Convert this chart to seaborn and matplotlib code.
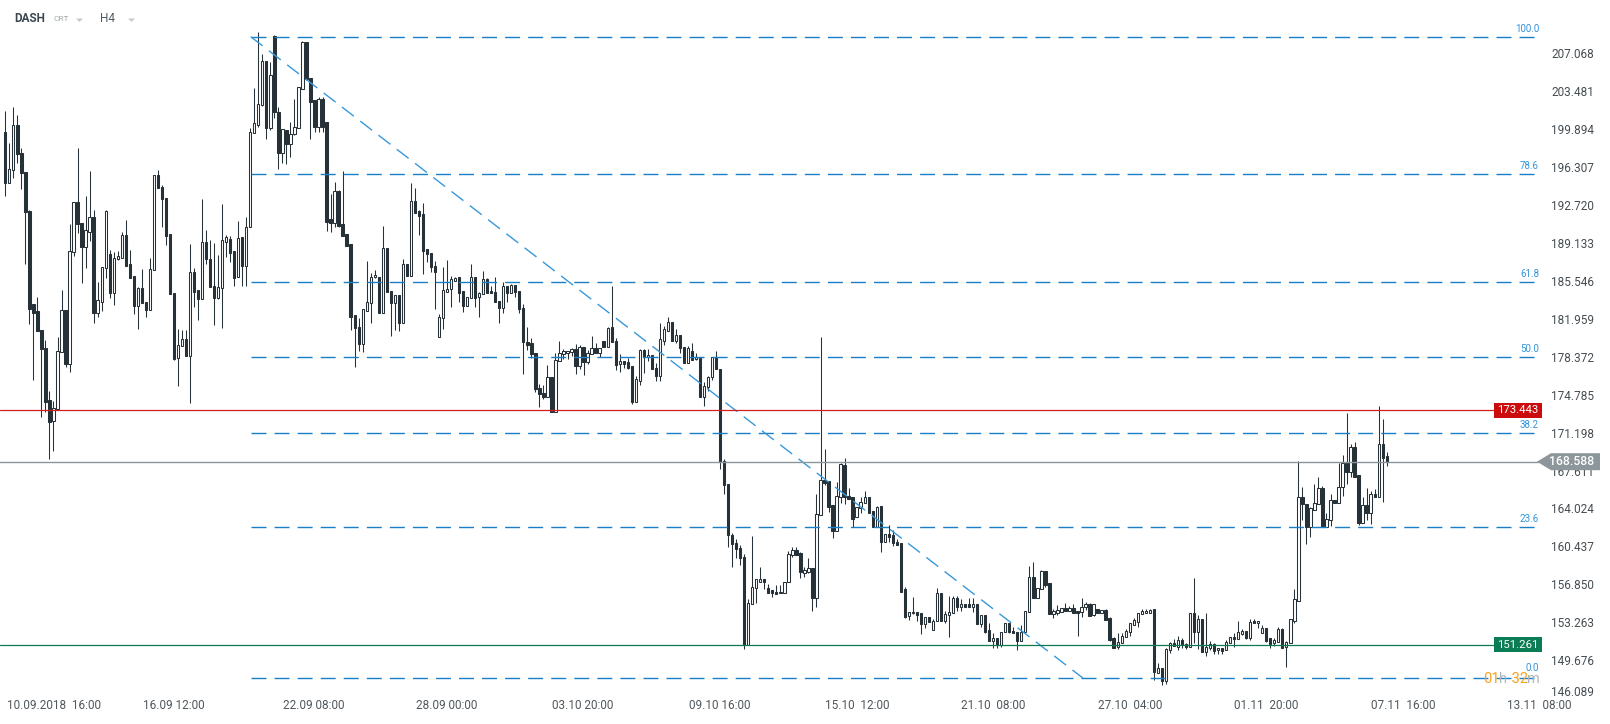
import matplotlib.pyplot as plt
from matplotlib.patches import Polygon, Rectangle
from matplotlib.offsetbox import TextArea, HPacker, AnnotationBbox
import numpy as np
import seaborn as sns

# DASH H4 candles (oldest first)
opens = [
    199.81, 194.92, 196.19, 200.41, 197.76, 195.97, 192.28, 183.48, 182.85, 181.05,
    179.31, 174.43, 172.44, 173.57, 178.94, 182.94, 177.80, 188.40, 193.13, 191.14,
    188.93, 190.35, 191.71, 182.69, 183.73, 186.88, 188.21, 184.58, 187.73, 187.89,
    190.04, 187.29, 186.13, 183.35, 184.99, 183.67, 182.91, 186.72, 195.68, 194.55,
    193.51, 190.10, 184.52, 178.37, 179.53, 180.17, 178.59, 186.50, 184.80, 183.95,
    189.34, 187.80, 185.24, 184.11, 185.05, 189.41, 189.63, 188.52, 186.03, 189.82,
    187.13, 190.76, 199.65, 200.44, 202.30, 206.50, 200.19, 208.90, 201.64, 197.76,
    199.97, 198.61, 199.56, 200.13, 203.88, 208.30, 204.86, 202.81, 200.28, 202.90,
    200.70, 191.55, 191.20, 194.17, 191.08, 190.13, 189.15, 182.47, 181.30, 179.69,
    182.88, 183.57, 186.03, 186.09, 182.69, 188.77, 184.74, 183.57, 184.36, 181.68,
    187.26, 186.19, 193.22, 192.31, 192.02, 188.71, 188.30, 187.10, 180.35, 182.15,
    184.68, 184.90, 185.72, 186.03, 184.74, 183.32, 184.05, 186.03, 184.17, 184.43,
    185.85, 184.74, 184.65, 183.80, 183.10, 185.21, 184.52, 185.31, 184.74, 183.10,
    179.95, 179.79, 178.85, 175.53, 175.06, 174.75, 176.64, 173.26, 178.12, 178.78,
    178.85, 179.00, 179.29, 177.68, 179.41, 178.06, 178.75, 179.32, 178.91, 180.01,
    179.48, 181.37, 180.04, 177.84, 178.12, 178.06, 177.65, 174.27, 176.26, 179.16,
    178.47, 178.69, 177.43, 176.70, 180.04, 180.99, 181.78, 180.04, 180.55, 179.41,
    177.96, 179.07, 178.28, 178.37, 174.68, 175.63, 176.58, 178.47, 177.36, 168.69,
    166.48, 161.66, 160.87, 160.40, 159.55, 151.25, 155.10, 156.61, 157.24, 157.46,
    156.61, 156.46, 156.30, 156.14, 156.20, 157.18, 159.73, 160.24, 159.92, 158.09,
    158.19, 158.50, 155.73, 163.52, 166.83, 166.77, 164.50, 162.07, 165.22, 168.28,
    165.35, 165.22, 163.33, 164.18, 164.72, 165.22, 163.93, 162.45, 164.40, 161.03,
    161.72, 161.63, 161.03, 160.87, 156.52, 153.99, 154.25, 154.40, 154.25, 153.21,
    153.87, 152.67, 153.52, 156.14, 153.55, 154.09, 154.25, 155.67, 154.88, 155.13,
    155.13, 154.81, 155.13, 153.21, 154.09, 152.67, 151.66, 151.91, 151.25, 152.45,
    153.30, 152.58, 152.45, 151.66, 152.51, 154.40, 157.65, 155.73, 156.52, 158.28,
    157.08, 154.15, 154.31, 154.40, 154.72, 154.50, 154.78, 154.47, 154.34, 154.81,
    155.13, 154.09, 154.62, 154.24, 154.56, 153.77, 151.88, 151.09, 151.41, 152.04,
    152.51, 153.14, 153.46, 154.15, 154.24, 154.31, 154.62, 148.63, 149.04, 147.85,
    150.78, 151.47, 151.09, 151.72, 151.34, 151.09, 154.24, 152.51, 153.68, 150.62,
    150.93, 151.31, 150.78, 150.93, 150.78, 151.41, 152.04, 151.79, 152.29, 152.60,
    151.94, 153.52, 153.30, 152.35, 152.83, 151.88, 151.41, 151.56, 152.73, 151.09,
    151.47, 153.55, 155.44, 165.22, 164.56, 162.44, 164.02, 164.59, 166.07, 162.44,
    163.07, 164.97, 164.72, 166.17, 168.44, 167.65, 169.95, 167.33, 162.82, 164.49,
    163.77, 165.53, 165.22, 170.27, 169.13,
]
highs = [
    201.77, 198.71, 202.11, 201.39, 198.24, 196.03, 192.40, 183.48, 184.20, 181.05,
    180.10, 175.31, 174.36, 180.42, 184.83, 182.94, 191.05, 193.13, 198.30, 191.14,
    193.73, 196.09, 192.40, 185.62, 186.98, 192.40, 188.62, 188.46, 188.55, 190.35,
    191.46, 188.62, 186.13, 185.15, 186.82, 183.67, 187.83, 195.68, 196.18, 194.73,
    193.51, 190.10, 184.52, 181.11, 181.05, 181.05, 189.18, 186.95, 184.80, 193.44,
    190.51, 189.56, 189.25, 188.17, 193.00, 190.04, 189.91, 188.52, 191.33, 189.82,
    191.71, 200.13, 203.91, 209.20, 207.16, 206.50, 206.44, 208.96, 202.18, 200.03,
    199.97, 200.70, 202.87, 204.01, 208.39, 208.30, 204.86, 202.81, 203.13, 203.13,
    200.70, 193.91, 195.08, 194.29, 196.06, 190.13, 189.15, 182.47, 182.15, 183.00,
    187.58, 186.41, 186.72, 186.09, 190.89, 188.77, 184.74, 184.36, 184.36, 187.76,
    187.26, 194.92, 194.48, 192.40, 193.03, 188.71, 188.30, 187.58, 182.56, 186.98,
    187.67, 186.16, 186.10, 186.03, 184.74, 184.20, 187.30, 186.03, 184.68, 186.66,
    185.94, 185.21, 186.10, 183.80, 185.62, 185.21, 185.37, 185.31, 184.74, 183.51,
    181.31, 180.26, 178.85, 175.91, 175.85, 177.74, 176.64, 178.85, 180.04, 179.22,
    179.07, 179.38, 179.73, 179.63, 179.41, 179.16, 180.49, 179.86, 179.32, 180.01,
    181.37, 185.22, 180.26, 178.75, 178.12, 178.37, 177.65, 176.70, 179.26, 179.22,
    179.22, 178.69, 177.90, 181.68, 181.43, 182.25, 181.78, 181.12, 180.55, 179.41,
    179.54, 179.86, 178.91, 178.37, 176.17, 176.70, 178.47, 179.10, 177.36, 168.82,
    166.48, 161.82, 161.25, 160.71, 159.86, 155.57, 161.57, 157.46, 158.66, 157.46,
    157.02, 156.46, 156.93, 156.93, 157.24, 160.15, 160.49, 160.55, 160.02, 158.60,
    159.51, 158.50, 165.54, 180.36, 169.76, 166.77, 164.50, 166.64, 168.44, 168.91,
    166.07, 165.22, 164.34, 165.28, 165.82, 165.28, 163.93, 164.40, 164.40, 161.72,
    162.60, 162.13, 161.25, 160.87, 156.71, 154.34, 155.82, 154.40, 154.25, 153.87,
    153.87, 153.68, 156.61, 156.14, 154.50, 155.89, 155.89, 155.89, 155.57, 155.13,
    155.67, 155.67, 155.13, 154.09, 154.09, 153.36, 152.42, 151.91, 152.45, 153.36,
    153.36, 152.92, 152.45, 153.14, 154.50, 158.76, 159.07, 156.61, 158.35, 158.28,
    157.08, 154.62, 155.04, 154.72, 155.19, 154.94, 155.13, 154.47, 155.66, 155.35,
    155.19, 155.13, 154.62, 154.56, 154.62, 153.87, 151.97, 152.35, 152.35, 152.73,
    153.36, 153.77, 154.24, 154.62, 154.62, 154.62, 154.62, 149.52, 149.10, 150.93,
    151.56, 151.79, 152.10, 151.88, 151.47, 154.24, 157.56, 154.09, 153.68, 154.24,
    151.63, 151.41, 151.00, 150.93, 151.72, 152.04, 152.35, 153.52, 152.73, 152.60,
    153.68, 153.68, 153.52, 153.14, 152.83, 151.88, 151.88, 152.92, 152.83, 151.66,
    153.68, 156.52, 168.66, 166.17, 164.56, 164.27, 166.48, 167.11, 166.29, 163.71,
    165.53, 164.97, 168.50, 169.22, 173.17, 170.27, 170.49, 167.33, 165.28, 166.13,
    165.82, 165.98, 173.86, 172.60, 169.54,
]
lows = [
    193.76, 194.92, 195.46, 196.82, 194.36, 187.26, 181.58, 176.32, 180.95, 172.79,
    173.32, 168.81, 169.63, 173.48, 178.94, 177.52, 177.11, 188.08, 190.26, 185.46,
    186.95, 189.50, 181.68, 182.31, 182.88, 185.94, 184.04, 183.38, 187.67, 187.89,
    187.13, 185.94, 182.53, 181.11, 183.57, 182.25, 182.91, 186.72, 194.45, 190.82,
    189.09, 184.42, 178.21, 175.75, 179.53, 178.59, 174.11, 183.19, 182.00, 183.95,
    187.29, 185.15, 181.49, 183.95, 181.24, 187.99, 187.45, 185.21, 186.03, 185.21,
    185.21, 190.76, 199.65, 200.28, 202.20, 199.15, 199.97, 201.08, 196.25, 196.88,
    196.72, 197.45, 199.50, 200.13, 203.88, 204.70, 199.15, 199.81, 199.81, 199.81,
    190.41, 190.29, 190.79, 190.79, 189.97, 189.03, 181.05, 177.58, 179.06, 178.94,
    182.88, 181.68, 185.94, 182.69, 182.63, 184.67, 180.51, 181.05, 180.95, 181.68,
    186.19, 186.19, 192.15, 190.04, 186.32, 187.45, 186.50, 183.00, 180.35, 181.15,
    184.68, 183.26, 185.72, 183.73, 182.79, 183.32, 184.05, 183.26, 182.31, 184.43,
    184.58, 184.52, 183.67, 181.68, 182.63, 183.73, 184.52, 184.20, 182.63, 176.86,
    179.16, 178.37, 175.22, 173.74, 174.49, 174.70, 173.26, 173.26, 178.12, 178.28,
    178.28, 178.59, 176.89, 177.33, 176.77, 177.84, 178.75, 178.85, 178.47, 179.41,
    179.48, 179.95, 177.27, 177.11, 177.43, 177.33, 174.05, 174.27, 175.85, 177.02,
    178.15, 177.33, 176.26, 176.26, 179.63, 180.99, 180.04, 179.86, 178.91, 177.96,
    177.96, 178.22, 178.22, 174.68, 173.86, 175.31, 176.32, 177.33, 167.87, 165.51,
    160.56, 158.60, 159.45, 158.82, 150.84, 151.25, 155.10, 155.26, 157.24, 156.52,
    156.14, 155.76, 156.05, 156.14, 156.20, 157.18, 159.61, 159.77, 157.62, 157.72,
    158.03, 154.50, 154.81, 163.52, 166.39, 163.86, 161.41, 162.07, 164.72, 164.59,
    165.06, 162.38, 163.33, 163.71, 164.72, 163.77, 162.45, 162.45, 160.08, 161.00,
    161.03, 160.62, 160.71, 156.30, 153.77, 153.62, 154.20, 153.55, 152.26, 152.83,
    153.46, 152.67, 153.52, 153.55, 153.30, 151.97, 154.25, 154.50, 154.50, 154.88,
    154.81, 154.40, 153.21, 152.99, 152.42, 151.66, 150.93, 150.93, 151.09, 152.45,
    152.36, 152.36, 150.78, 151.66, 152.51, 154.40, 155.73, 155.73, 156.52, 156.71,
    154.15, 153.77, 154.09, 154.40, 154.50, 154.50, 154.24, 152.10, 153.93, 154.56,
    154.02, 154.02, 154.24, 154.24, 153.61, 151.66, 150.93, 150.84, 151.41, 152.04,
    152.10, 153.14, 152.98, 154.15, 154.24, 154.31, 147.94, 148.63, 147.50, 147.60,
    150.52, 151.15, 150.78, 150.93, 150.84, 151.09, 151.41, 150.84, 150.62, 150.21,
    150.78, 150.40, 150.40, 150.40, 150.78, 151.41, 151.09, 151.79, 152.20, 151.79,
    151.72, 153.30, 152.89, 152.35, 151.56, 150.99, 151.15, 151.56, 150.99, 149.14,
    151.47, 153.30, 155.44, 163.07, 160.77, 161.50, 164.02, 164.59, 162.44, 162.44,
    162.54, 164.72, 164.72, 165.35, 166.48, 167.11, 167.17, 162.60, 162.82, 163.07,
    162.70, 165.28, 165.22, 164.81, 168.18,
]
closes = [
    194.99, 196.25, 200.41, 197.67, 195.87, 192.18, 183.00, 182.69, 180.95, 179.22,
    174.20, 172.31, 173.70, 179.03, 182.94, 177.80, 188.52, 193.13, 191.05, 188.93,
    190.48, 191.71, 182.69, 183.89, 186.98, 192.31, 184.58, 187.83, 188.05, 190.04,
    187.13, 186.00, 183.35, 185.05, 183.57, 182.94, 186.79, 195.68, 194.45, 193.41,
    189.97, 184.42, 178.30, 179.60, 180.20, 178.59, 186.50, 184.67, 183.95, 189.34,
    187.73, 185.15, 184.11, 185.15, 189.53, 189.82, 188.36, 186.00, 189.78, 187.13,
    190.76, 199.75, 200.60, 202.43, 206.50, 200.19, 205.17, 201.70, 197.83, 200.03,
    198.61, 199.56, 200.22, 204.01, 208.30, 204.76, 202.65, 200.28, 202.90, 200.28,
    191.30, 191.20, 194.17, 190.89, 189.97, 189.03, 182.31, 181.21, 179.69, 183.00,
    183.70, 186.03, 186.22, 182.69, 188.77, 184.67, 183.57, 184.36, 181.68, 187.26,
    186.19, 193.22, 192.15, 191.87, 188.55, 188.24, 186.98, 186.50, 182.25, 184.84,
    184.93, 185.85, 185.97, 184.58, 183.32, 184.20, 186.03, 184.11, 184.52, 185.85,
    184.58, 184.52, 183.67, 183.10, 185.21, 184.52, 185.31, 184.61, 183.01, 179.89,
    179.63, 178.78, 175.44, 174.97, 174.75, 176.58, 173.26, 178.22, 178.85, 179.07,
    179.07, 179.22, 177.68, 179.41, 178.06, 178.85, 179.32, 178.91, 179.32, 179.41,
    181.27, 179.95, 177.74, 178.12, 177.84, 177.43, 174.21, 176.42, 179.16, 178.47,
    178.69, 177.33, 176.70, 180.17, 181.12, 181.78, 180.04, 180.55, 179.32, 177.96,
    179.32, 178.22, 178.47, 174.68, 175.76, 176.58, 178.47, 177.33, 168.60, 166.39,
    161.66, 160.78, 160.30, 159.45, 151.25, 155.19, 156.77, 157.46, 157.46, 157.24,
    156.20, 156.14, 156.05, 156.30, 157.24, 159.86, 160.24, 159.77, 158.19, 158.31,
    158.50, 155.73, 163.61, 166.83, 166.61, 164.34, 162.07, 165.35, 168.34, 165.22,
    165.06, 163.17, 164.28, 164.81, 165.22, 163.77, 162.45, 164.34, 161.03, 161.72,
    161.50, 160.93, 160.71, 156.30, 153.93, 154.34, 154.40, 154.09, 153.21, 153.87,
    153.46, 153.55, 156.14, 153.55, 154.18, 154.34, 155.73, 154.88, 155.13, 154.88,
    154.81, 155.13, 153.21, 154.09, 152.51, 151.66, 151.91, 151.25, 152.45, 153.30,
    152.45, 152.36, 151.66, 152.51, 154.50, 157.65, 155.73, 156.61, 158.28, 156.93,
    154.15, 154.47, 154.56, 154.72, 154.50, 154.72, 154.31, 154.31, 154.88, 155.13,
    154.02, 155.13, 154.24, 154.56, 153.61, 151.72, 150.99, 151.56, 152.10, 152.60,
    153.30, 153.61, 154.24, 154.50, 154.50, 154.56, 148.73, 149.04, 147.80, 150.84,
    151.47, 151.15, 151.72, 151.25, 151.09, 154.24, 152.51, 153.68, 150.62, 151.03,
    151.31, 150.71, 151.00, 150.71, 151.50, 151.97, 151.79, 152.45, 152.60, 151.88,
    153.46, 153.30, 153.52, 152.83, 151.66, 151.31, 151.72, 152.73, 150.99, 151.56,
    153.68, 155.57, 165.22, 164.59, 162.44, 164.18, 164.65, 166.07, 162.44, 163.14,
    164.97, 164.72, 166.23, 168.44, 167.65, 169.95, 167.17, 162.76, 164.49, 163.77,
    165.53, 165.28, 170.27, 168.97, 168.59,
]

# Fibonacci retracement drawn from the September high to the October low
fib_high = 208.80
fib_low = 148.10
fib_levels = [0.0, 23.6, 38.2, 50.0, 61.8, 78.6, 100.0]
fib_start = 61.1      # bar where the tool starts
fib_end = 268.4       # bar where the trend line ends
resistance = 173.443
support = 151.261
last_price = 168.588

price_ticks = [207.068, 203.481, 199.894, 196.307, 192.720, 189.133, 185.546, 181.959,
               178.372, 174.785, 171.198, 167.611, 164.024, 160.437, 156.850, 153.263,
               149.676, 146.089]
date_labels = ['10.09.2018  16:00', '16.09 12:00', '22.09 08:00', '28.09 00:00',
               '03.10 20:00', '09.10 16:00', '15.10  12:00', '21.10  08:00',
               '27.10  04:00', '01.11  20:00', '07.11  16:00', '13.11  08:00']
date_ticks = [12.1, 41.9, 76.7, 110.0, 143.8, 177.8, 212.1, 246.1, 280.1, 314.1, 348.0, 382.0]

sns.set_style('white')
plt.rcParams['font.family'] = ['Roboto', 'DejaVu Sans']

W, H = 1610, 724
x0, x1 = -1.32, 399.6
y0, y1 = 143.77, 212.27


def px(x):
    return x0 + x / W * (x1 - x0)


def py(y):
    return y1 - y / H * (y1 - y0)


one_px = (y1 - y0) / H

fig = plt.figure(figsize=(16.1, 7.24), dpi=100)
ax = fig.add_axes([0, 0, 1, 1])
ax.set_xlim(x0, x1)
ax.set_ylim(y0, y1)
ax.set_axis_off()

# candles
dark = '#263238'
idx = np.arange(len(closes))
o = np.array(opens)
c = np.array(closes)
up = c >= o
ax.vlines(idx, lows, highs, color=dark, lw=0.75, zorder=3)
ax.bar(idx, np.maximum(np.abs(c - o), 0.08), bottom=np.minimum(o, c), width=0.58,
       color=np.where(up, 'white', dark), edgecolor=dark, linewidth=0.75, zorder=4)

# fibonacci levels + trend line
fib_blue = '#1a7fc6'
for lvl in fib_levels:
    p = fib_low + (fib_high - fib_low) * lvl / 100
    ax.plot([fib_start, px(1540)], [p, p], color=fib_blue, lw=1.0,
            dashes=(10.8, 5.8), zorder=5)
    lift = 5 if lvl == 0 else 3
    ax.text(px(1539), p + lift * one_px, f'{lvl:.1f}', ha='right', va='bottom',
            fontsize=7, color='#3193db', zorder=6)
ax.plot([fib_start, fib_end], [fib_high, fib_low], color='#3898da', lw=1.0,
        dashes=(10.8, 5.8), zorder=5)

# horizontal levels
ax.plot([x0, px(1494)], [resistance, resistance], color='#d11f1f', lw=0.9, zorder=5)
ax.plot([x0, px(1494)], [support, support], color='#0d7a50', lw=0.9, zorder=5)
ax.plot([x0, px(1538)], [last_price, last_price], color='#8a959a', lw=1.0, zorder=5)

# price ticks on the right
for t in price_ticks:
    ax.text(px(1551), max(t, py(693)), f'{t:.3f}', ha='left', va='center',
            fontsize=8.5, color='#454d52', zorder=6)

# value tags
for val, col in [(resistance, '#cc0c0c'), (support, '#0b7d55')]:
    ax.add_patch(Rectangle((px(1494), val - 7.5 * one_px), px(1542) - px(1494),
                           15 * one_px, fc=col, ec='none', zorder=7))
    ax.text(px(1518), val, f'{val:.3f}', ha='center', va='center', fontsize=8.2,
            color='white', zorder=8)
tag = [(px(1537), last_price), (px(1551), last_price + 8.5 * one_px),
       (px(1600), last_price + 8.5 * one_px), (px(1600), last_price - 8.5 * one_px),
       (px(1551), last_price - 8.5 * one_px)]
ax.add_patch(Polygon(tag, closed=True, fc='#8c969b', ec='none', zorder=7))
ax.text(px(1572), last_price, f'{last_price:.3f}', ha='center', va='center',
        fontsize=8.8, color='white', weight='medium', zorder=8)

# date labels
for pos, lab in zip(date_ticks, date_labels):
    ax.text(pos, py(706), lab, ha='center', va='center', fontsize=8.5,
            color='#50585d', zorder=6, clip_on=False)

# header
ax.text(px(14), py(19), 'DASH', ha='left', va='center', fontsize=8.5,
        weight='bold', color='#3b4750')
ax.text(px(53), py(19), 'CRT', ha='left', va='center', fontsize=6, color='#a3abb0')
ax.text(px(100), py(19), 'H4', ha='left', va='center', fontsize=8.5, color='#4f5a61')
for tx in (76, 128):
    ax.add_patch(Polygon([(px(tx), py(18.5)), (px(tx + 7), py(18.5)),
                          (px(tx + 3.5), py(22))], closed=True, fc='#c5cacd', ec='none'))

# candle countdown
orange, grey = '#f7a21b', '#b0b6ba'
parts = [TextArea('01', textprops=dict(color=orange, fontsize=10.5)),
         TextArea('h', textprops=dict(color=grey, fontsize=10.5)),
         TextArea(' 32', textprops=dict(color=orange, fontsize=10.5)),
         TextArea('m', textprops=dict(color=grey, fontsize=10.5))]
count = HPacker(children=parts, align='baseline', pad=0, sep=0)
ax.add_artist(AnnotationBbox(count, (px(1483), py(679)), box_alignment=(0, 0.5),
                             frameon=False, pad=0, zorder=9))

fig.savefig('out.png', dpi=100)
